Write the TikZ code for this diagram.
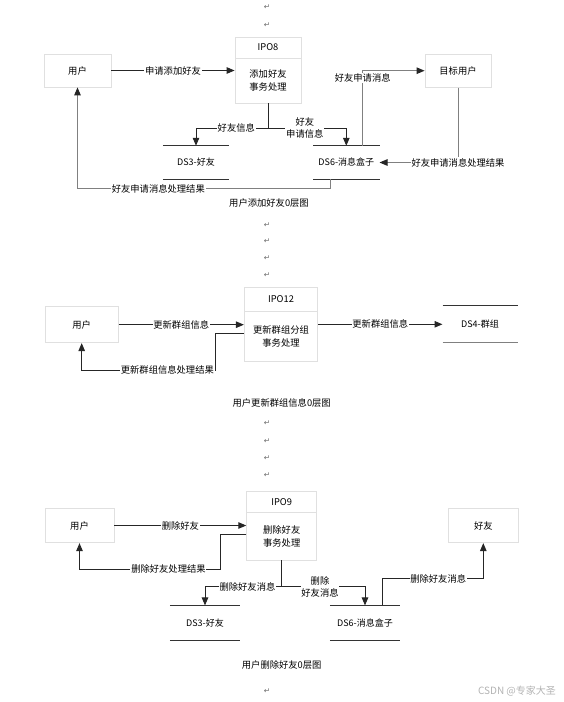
\documentclass[tikz,border=0pt]{standalone}
\usepackage{fontspec}
\setmainfont{Noto Sans CJK SC}
\newfontfamily\markfont{DejaVu Sans}
\usetikzlibrary{positioning,arrows.meta,calc}
\tikzset{
  dfdbox/.style={draw=black!12, line width=0.8pt, fill=white, align=center,
    font=\fontsize{9.3}{12.5}\selectfont, inner sep=1pt},
  dfdstore/.style={align=center, font=\fontsize{9}{11}\selectfont, inner sep=1pt,
    minimum height=33pt},
  storeline/.style={line width=1pt, draw=black!80},
  dfdarrow/.style={-{Triangle[length=8pt,width=6.5pt]}, line width=1pt, draw=black!85},
  dfdgray/.style={-{Triangle[length=8pt,width=6.5pt,color=black!85]}, line width=1pt, draw=black!50},
  dfdlabel/.style={fill=white, inner sep=0.8pt, align=center, font=\fontsize{9.3}{11.8}\selectfont},
  dfdcaption/.style={font=\fontsize{9.3}{11}\selectfont},
  parmark/.style={font=\markfont\fontsize{7.5}{8}\selectfont, text=black!60},
}

\begin{document}
\begin{tikzpicture}[x=1pt, y=-1pt]
  \useasboundingbox (0,0) rectangle (563,702);
  % 用户添加好友0层图
  \node[dfdbox, minimum width=67pt, minimum height=33pt] (user1) at (77.5,70.5) {用户};
  \node[dfdbox, minimum width=66pt, minimum height=21pt] (ipo8h) at (268,47.5) {IPO8};
  \node[dfdbox, minimum width=66pt, minimum height=45pt] (ipo8) at (268,80.5) {添加好友\\事务处理};
  \node[dfdbox, minimum width=66pt, minimum height=33pt] (target) at (458,70.7) {目标用户};
  \node[dfdstore, minimum width=66pt] (ds3a) at (196,162.5) {DS3-好友};
  \node[dfdstore, minimum width=66pt] (ds6a) at (346.3,162.5) {DS6-消息盒子};
  \draw[storeline] (ds3a.north west) -- (ds3a.north east) (ds3a.south west) -- (ds3a.south east);
  \draw[storeline] (ds6a.north west) -- (ds6a.north east) (ds6a.south west) -- (ds6a.south east);
  \coordinate (fork1) at (268,128);
  \draw[dfdarrow] (user1.east) -- node[dfdlabel]{申请添加好友} (user1.east -| ipo8.west);
  \draw[dfdarrow] (ipo8.south) -- (fork1) -| node[dfdlabel, pos=0.22]{好友信息} (ds3a.north);
  \draw[dfdarrow] (fork1) -| node[dfdlabel, pos=0.235]{好友\\申请信息} (ds6a.north);
  \draw[dfdgray] ($(ds6a.north)+(16.4,0)$) |- node[dfdlabel, pos=0.45]{好友申请消息} (target.west);
  \draw[dfdgray] (target.south) |- node[dfdlabel]{好友申请消息处理结果} (ds6a.east);
  \draw[dfdgray] ($(ds6a.south)+(-16.3,0)$) -- ++(0,9.3) -| node[dfdlabel, pos=0.34]{好友申请消息处理结果} (user1.south);
  \node[dfdcaption] (cap1) at (269,202.7) {用户添加好友0层图};
  % 用户更新群组信息0层图
  \node[dfdbox, minimum width=73pt, minimum height=36pt] (user2) at (81.7,324.7) {用户};
  \node[dfdbox, minimum width=73.4pt, minimum height=24.4pt] (ipo12h) at (281,299.5) {IPO12};
  \node[dfdbox, minimum width=73.4pt, minimum height=49.3pt] (ipo12) at (281,336.3) {更新群组分组\\事务处理};
  \node[dfdstore, minimum width=74.6pt, minimum height=36.7pt] (ds4) at (480,324.3) {DS4-群组};
  \draw[storeline] (ds4.north west) -- (ds4.north east);
  \draw[storeline, draw=black!50] (ds4.south west) -- (ds4.south east);
  \draw[dfdarrow] (user2.east) -- node[dfdlabel]{更新群组信息} (user2.east -| ipo12.west);
  \draw[dfdarrow] (ipo12.east |- ds4.west) -- node[dfdlabel]{更新群组信息} (ds4.west);
  \draw[dfdarrow] ($(ipo12.west)+(0,-3)$) -- ++(-28.3,0) -- ++(0,36.7) -| node[dfdlabel, pos=0.18]{更新群组信息处理结果} (user2.south);
  \node[dfdcaption] (cap2) at (281.7,402.7) {用户更新群组信息0层图};
  % 用户删除好友0层图
  \node[dfdbox, minimum width=69pt, minimum height=34.4pt] (user3) at (79.5,525.5) {用户};
  \node[dfdbox, minimum width=70pt, minimum height=21.7pt] (ipo9h) at (281.7,501.8) {IPO9};
  \node[dfdbox, minimum width=70pt, minimum height=47.3pt] (ipo9) at (281.7,536.3) {删除好友\\事务处理};
  \node[dfdbox, minimum width=70pt, minimum height=34.4pt] (friend) at (483.3,525.5) {好友};
  \node[dfdstore, minimum width=70pt, minimum height=34.3pt] (ds3b) at (205,622.8) {DS3-好友};
  \node[dfdstore, minimum width=70pt, minimum height=34.3pt] (ds6b) at (365,622.8) {DS6-消息盒子};
  \draw[storeline] (ds3b.north west) -- (ds3b.north east) (ds3b.south west) -- (ds3b.south east);
  \draw[storeline] (ds6b.north west) -- (ds6b.north east) (ds6b.south west) -- (ds6b.south east);
  \coordinate (fork3) at (281.7,586.7);
  \draw[dfdarrow] (user3.east) -- node[dfdlabel]{删除好友} (user3.east -| ipo9.west);
  \draw[dfdarrow] ($(ipo9.west)+(0,-2.3)$) -- ++(-26,0) -- ++(0,35.3) -| node[dfdlabel, pos=0.184]{删除好友处理结果} (user3.south);
  \draw[dfdarrow] (ipo9.south) -- (fork3) -| node[dfdlabel, pos=0.223]{删除好友消息} (ds3b.north);
  \draw[dfdarrow] (fork3) -| node[dfdlabel, pos=0.23]{删除\\好友消息} (ds6b.north);
  \draw[dfdarrow] ($(ds6b.north)+(17.7,0)$) -- ++(0,-26.7) -| node[dfdlabel, pos=0.276]{删除好友消息} (friend.south);
  \node[dfdcaption] (cap3) at (281.7,665) {用户删除好友0层图};
  % 段落标记与水印
  \foreach \y [count=\i] in {7.3,25,225,241,258.3,275,423.3,440.7,458,474.7,690.7}
    \node[parmark] (mark\i) at (267,\y) {↵};
  \node[font=\fontsize{10}{12}\selectfont, text=black!30] (wm) at (517,690.7) {CSDN @专家大圣};
\end{tikzpicture}
\end{document}
